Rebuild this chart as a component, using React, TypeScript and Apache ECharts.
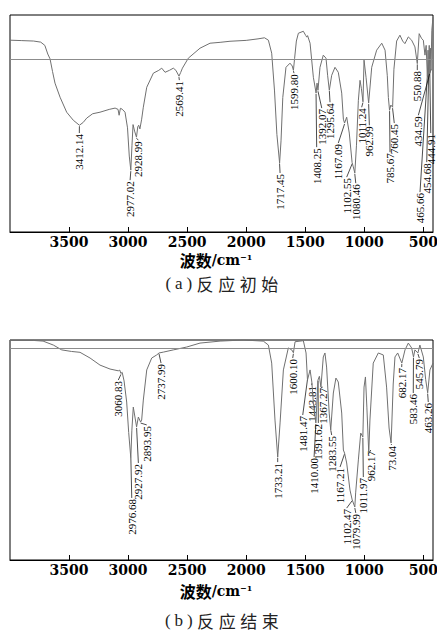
import React, { useEffect, useRef } from "react";
import * as echarts from "echarts";

const X_MIN = 418;
const X_MAX = 4000;
const tickValues = [500, 1000, 1500, 2000, 2500, 3000, 3500];

// Spectrum (a) reaction start: [wavenumber, transmittance %]
const spectrumA: [number, number][] = [
  [4000, 88.4], [3900, 88.2], [3800, 88.0], [3740, 87.5], [3705, 86], [3680, 82], [3661, 79.8], [3640, 74],
  [3619, 68.6], [3576, 62.1], [3520, 55.2], [3464, 51.5], [3412, 49.2], [3380, 50.5], [3350, 52.5], [3300, 54.5],
  [3238, 55.2], [3160, 56.5], [3110, 57.1], [3085, 56.5], [3076, 53.8], [3065, 57], [3050, 56.6], [3026, 55.2],
  [3005, 48], [2990, 35], [2977, 28.5], [2967, 40], [2958, 49.5], [2945, 46.5], [2929, 43.7], [2918, 48.5],
  [2910, 49.2], [2900, 47.5], [2885, 52], [2871, 57.5], [2842, 66.7], [2786, 73.2], [2740, 74.5], [2715, 75.5],
  [2687, 73.6], [2650, 74.5], [2617, 75.5], [2595, 74.5], [2569, 71.8], [2555, 73.5], [2540, 75.5], [2490, 80.1],
  [2391, 84.7], [2306, 87.0], [2221, 87.4], [2137, 87.9], [2000, 88.3], [1900, 89], [1845, 89.5], [1812, 88.4],
  [1784, 82.4], [1760, 65], [1740, 45], [1717, 31.8], [1705, 42], [1690, 62], [1663, 75.9], [1629, 77.8],
  [1610, 76.5], [1600, 74.5], [1590, 80], [1575, 88], [1558, 91.6], [1516, 92.5], [1495, 90.5], [1487, 89.8],
  [1480, 90.5], [1459, 87.0], [1431, 71.3], [1408, 64.0], [1400, 68.6], [1392, 65.3], [1375, 75.9], [1347, 81.5],
  [1324, 80.1], [1310, 72], [1296, 65.3], [1276, 72.2], [1248, 75.9], [1220, 73.6], [1191, 64.0], [1177, 52],
  [1167, 50.2], [1149, 52.9], [1127, 45.6], [1103, 32], [1093, 30], [1080, 27.2], [1066, 40], [1050, 60.7],
  [1036, 69.9], [1024, 66], [1011, 60], [1002, 79.2], [985, 71.3], [963, 59.4], [937, 75.9], [895, 83.8],
  [852, 87.0], [824, 83.8], [805, 72], [796, 62], [786, 56.1], [775, 58.5], [760, 57.5], [749, 75],
  [726, 88], [698, 90.7], [675, 88], [656, 86.8], [627, 89.9], [599, 88.4], [571, 85.3], [551, 77.6],
  [535, 91.4], [514, 89.1], [500, 88.4], [486, 81.5], [476, 86], [466, 71.8], [460, 83.8], [455, 72.7],
  [450, 86], [445, 73.2], [440, 84.7], [435, 74.5], [428, 93], [418, 99],
];

// Spectrum (b) reaction end
const spectrumB: [number, number][] = [
  [4000, 99.8], [3800, 99.8], [3720, 99.5], [3633, 97.7], [3562, 95.5], [3480, 94.8], [3407, 94.4], [3322, 91.8],
  [3238, 88.6], [3153, 86.8], [3083, 86.0], [3070, 86.3], [3061, 84.8], [3050, 85.3], [3034, 81.4], [3012, 71.8],
  [2995, 58], [2977, 46.4], [2968, 59], [2956, 69.5], [2942, 65], [2928, 60.5], [2913, 65], [2894, 62.7],
  [2885, 63.6], [2871, 72.7], [2842, 86.4], [2800, 91.8], [2758, 93.2], [2738, 94.1], [2701, 94.5], [2617, 95.5],
  [2504, 96.8], [2391, 98.6], [2221, 99.5], [2024, 100], [1855, 99.5], [1812, 97.7], [1784, 89.5], [1756, 63.6],
  [1733, 46.8], [1713, 62.3], [1685, 86.4], [1643, 96.4], [1614, 95.5], [1600, 94.2], [1586, 99.2], [1516, 99.7],
  [1493, 94.1], [1481, 81.8], [1459, 86.4], [1444, 80.9], [1431, 71.4], [1410, 62.3], [1403, 69.5], [1392, 81.8],
  [1380, 83.5], [1367, 78.6], [1347, 92.3], [1333, 94.1], [1319, 87.7], [1297, 66.8], [1284, 59.1], [1262, 75.9],
  [1240, 82.7], [1220, 80.9], [1191, 66.8], [1177, 50], [1167, 48.6], [1149, 44.1], [1121, 31.8], [1102, 27.3],
  [1080, 24.1], [1073, 30.5], [1050, 45.5], [1030, 57.7], [1012, 55.9], [1002, 78.6], [990, 83.2], [978, 69.5],
  [962, 48.6], [952, 63.6], [924, 89.5], [881, 94.1], [839, 93.2], [811, 78.6], [790, 60], [773, 53.2],
  [768, 60], [755, 80], [740, 92.3], [717, 94.1], [682, 89.5], [655, 95.5], [627, 98.6], [599, 96.4],
  [583, 92.3], [571, 95.5], [546, 94.1], [529, 97.7], [500, 92.3], [480, 82], [463, 76], [444, 86.4], [418, 89.5],
];

const refLineA = 79.8;
const refLineB = 96.2;

// Peak labels: [text, peak wavenumber, label wavenumber, label top (transmittance)]
const peaksA: [string, number, number, number][] = [
  ["3412.14", 3412.14, 3413, 45.6],
  ["2977.02", 2977.02, 2983, 23.9],
  ["2928.99", 2928.99, 2913, 42.3],
  ["2569.41", 2569.41, 2566, 70.0],
  ["1717.45", 1717.45, 1713, 27.2],
  ["1599.80", 1599.8, 1595, 73.2],
  ["1408.25", 1408.25, 1403, 39.1],
  ["1392.07", 1392.07, 1360, 57.1],
  ["1295.64", 1295.64, 1290, 59.8],
  ["1167.09", 1167.09, 1220, 41.0],
  ["1102.55", 1102.55, 1149, 25.3],
  ["1080.46", 1080.46, 1072, 22.5],
  ["1011.24", 1011.24, 1022, 57.5],
  ["962.99", 962.99, 957, 49.2],
  ["785.67", 785.67, 782, 36.8],
  ["760.45", 760.45, 746, 50.2],
  ["550.88", 550.88, 551, 74.6],
  ["434.59", 434.59, 542, 53.8],
  ["465.66", 465.66, 528, 18.4],
  ["454.68", 454.68, 471, 32.2],
  ["444.91", 444.91, 437, 45.6],
];

const peaksB: [string, number, number, number][] = [
  ["3060.83", 3060.83, 3083, 81.8],
  ["2976.68", 2976.68, 2969, 28.2],
  ["2927.92", 2927.92, 2913, 44.1],
  ["2893.95", 2893.95, 2842, 61.4],
  ["2737.99", 2737.99, 2721, 89.5],
  ["1733.21", 1733.21, 1733, 44.5],
  ["1600.10", 1600.1, 1606, 91.8],
  ["1481.47", 1481.47, 1521, 65.9],
  ["1443.81", 1443.81, 1445, 79.5],
  ["1410.00", 1410.0, 1425, 46.8],
  ["1391.62", 1391.62, 1389, 62.3],
  ["1367.27", 1367.27, 1352, 78.6],
  ["1283.55", 1283.55, 1276, 56.8],
  ["1167.21", 1167.21, 1205, 42.3],
  ["1102.47", 1102.47, 1149, 23.6],
  ["1079.99", 1079.99, 1072, 21.4],
  ["1011.97", 1011.97, 1008, 37.7],
  ["962.17", 962.17, 945, 50],
  ["73.04", 773.04, 768, 52.3],
  ["682.17", 682.17, 683, 87.7],
  ["583.46", 583.46, 585, 75.9],
  ["545.79", 545.79, 534, 91.8],
  ["463.26", 463.26, 458, 71.8],
];

function interp(spec: [number, number][], w: number): number {
  for (let i = 0; i < spec.length - 1; i++) {
    const [w1, t1] = spec[i];
    const [w2, t2] = spec[i + 1];
    if (w <= w1 && w >= w2) {
      const f = w1 === w2 ? 0 : (w1 - w) / (w1 - w2);
      return t1 + (t2 - t1) * f;
    }
  }
  return spec[spec.length - 1][1];
}

const LABEL_FONT = "'Liberation Serif', 'Times New Roman', serif";
const TICK_FONT = "'DejaVu Serif', serif";
const CJK_FONT = "'Noto Sans CJK SC', sans-serif";

function makeXAxis(gridIndex: number) {
  return {
    type: "value",
    gridIndex,
    min: X_MIN,
    max: X_MAX,
    inverse: true,
    axisLine: { show: true, lineStyle: { color: "#000", width: 1 } },
    axisTick: {
      show: true,
      inside: true,
      length: 5,
      customValues: tickValues,
      lineStyle: { color: "#000", width: 1 },
    },
    axisLabel: {
      show: true,
      customValues: tickValues,
      formatter: (v: number) => String(v),
      hideOverlap: false,
      margin: 3,
      color: "#000",
      fontFamily: TICK_FONT,
      fontWeight: "bold",
      fontSize: 14,
      lineHeight: 14,
    },
    splitLine: { show: false },
  };
}

function makeYAxis(gridIndex: number) {
  return { type: "value", gridIndex, min: 0, max: 100, show: false };
}

function lineSeries(idx: number, spec: [number, number][], ref: number) {
  return {
    type: "line",
    xAxisIndex: idx,
    yAxisIndex: idx,
    data: spec,
    showSymbol: false,
    symbol: "none",
    lineStyle: { color: "#707070", width: 1 },
    silent: true,
    markLine: {
      silent: true,
      symbol: "none",
      label: { show: false },
      lineStyle: { color: "#8c8c8c", width: 1, type: "solid" },
      data: [{ yAxis: ref }],
    },
  };
}

function labelSeries(idx: number, spec: [number, number][], peaks: [string, number, number, number][]) {
  return {
    type: "custom",
    xAxisIndex: idx,
    yAxisIndex: idx,
    clip: false,
    silent: true,
    data: peaks.map((p) => [p[2], p[3]]),
    renderItem: (params: any, api: any) => {
      const p = peaks[params.dataIndex];
      const start = api.coord([p[1], interp(spec, p[1])]);
      const end = api.coord([p[2], p[3]]);
      return {
        type: "group",
        children: [
          {
            type: "line",
            shape: { x1: start[0], y1: start[1] + 1, x2: end[0], y2: end[1] },
            style: { stroke: "#000", lineWidth: 0.7 },
          },
          {
            type: "text",
            x: end[0],
            y: end[1] + 1,
            rotation: Math.PI / 2,
            style: {
              text: p[0],
              fontSize: 11,
              fontFamily: LABEL_FONT,
              fill: "#000",
              align: "right",
              verticalAlign: "middle",
            },
          },
        ],
      };
    },
  };
}

function axisTitle(y: number) {
  return {
    type: "text",
    x: 216,
    y,
    style: {
      text: "{a|波数}{b|/cm}{s|−1}",
      align: "center",
      verticalAlign: "middle",
      rich: {
        a: { fontFamily: CJK_FONT, fontWeight: "bold", fontSize: 16, fill: "#000", lineHeight: 15 },
        b: { fontFamily: TICK_FONT, fontWeight: "bold", fontSize: 14, fill: "#000", lineHeight: 15 },
        s: { fontFamily: TICK_FONT, fontWeight: "bold", fontSize: 8, fill: "#000", lineHeight: 15, verticalAlign: "top" },
      },
    },
  };
}

function caption(y: number, letter: string, words: string) {
  const paren = ["(", letter, ")"].map((c) => `{p|${c}}`).join("");
  const cjk = Array.from(words).map((c) => `{c|${c}}`).join("");
  return {
    type: "text",
    x: 222,
    y,
    style: {
      text: paren + cjk,
      align: "center",
      verticalAlign: "middle",
      rich: {
        p: { fontFamily: LABEL_FONT, fontSize: 17, fill: "#222", padding: [0, 2, 0, 2] },
        c: { fontFamily: CJK_FONT, fontSize: 17, fill: "#222", padding: [0, 2.3, 0, 2.3] },
      },
    },
  };
}

export default function App() {
  const ref = useRef<HTMLDivElement>(null);
  useEffect(() => {
    if (!ref.current) return;
    const chart = echarts.init(ref.current, null, { renderer: "svg" });
    chart.setOption({
      animation: false,
      backgroundColor: "#fff",
      grid: [
        { left: 10, right: 4, top: 15, height: 217, outerBoundsMode: "none", containLabel: false, show: true, borderColor: "#000", borderWidth: 1, backgroundColor: "transparent" },
        { left: 10, right: 4, top: 340, height: 220, outerBoundsMode: "none", containLabel: false, show: true, borderColor: "#000", borderWidth: 1, backgroundColor: "transparent" },
      ],
      xAxis: [makeXAxis(0), makeXAxis(1)],
      yAxis: [makeYAxis(0), makeYAxis(1)],
      series: [
        lineSeries(0, spectrumA, refLineA),
        lineSeries(1, spectrumB, refLineB),
        labelSeries(0, spectrumA, peaksA),
        labelSeries(1, spectrumB, peaksB),
      ],
      graphic: [
        axisTitle(260),
        axisTitle(591),
        caption(283, "a", "反应初始"),
        caption(620, "b", "反应结束"),
      ],
    });
    return () => chart.dispose();
  }, []);
  return (
    <div
      ref={ref}
      style={{ position: "absolute", left: 0, top: 0, width: 437, height: 637 }}
    />
  );
}
